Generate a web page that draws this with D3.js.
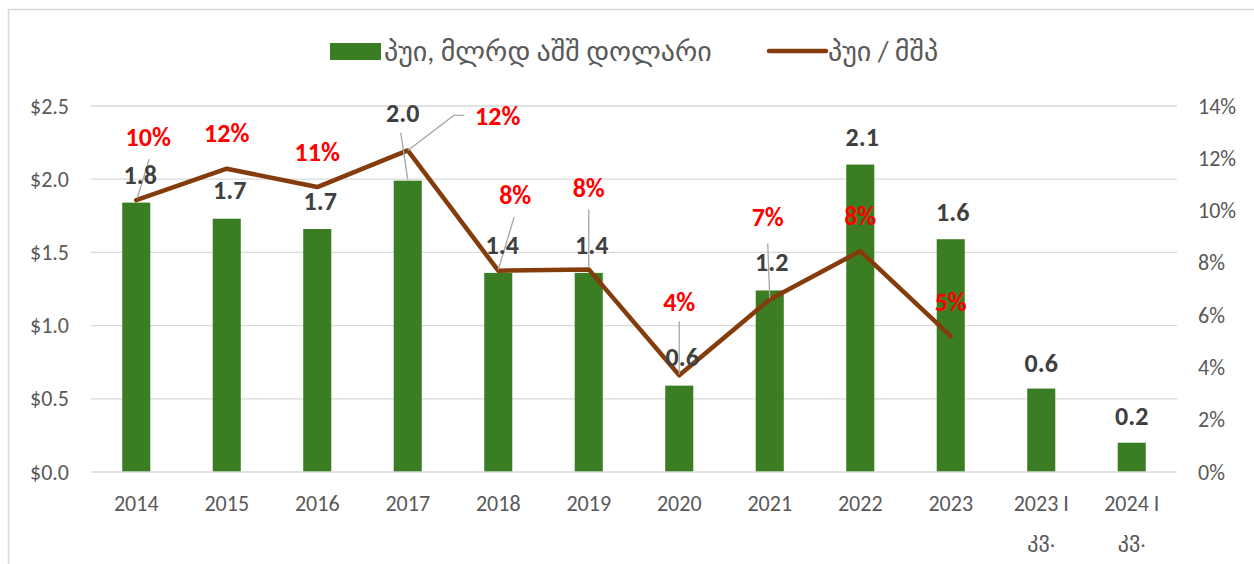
<!DOCTYPE html>
<html>
<head>
<meta charset="utf-8">
<script src="https://cdn.jsdelivr.net/npm/d3@7"></script>
<style>
  body { margin: 0; background: #fff; }
  svg text { font-family: Calibri, Carlito, Lato, "DejaVu Sans", sans-serif; }
</style>
</head>
<body>
<svg id="fdi" width="1254" height="564"></svg>
<script>
// data
let categories = ["2014", "2015", "2016", "2017", "2018", "2019", "2020", "2021", "2022", "2023", "2023 I\nკვ.", "2024 I\nკვ."]
let fdiBn = [1.84, 1.73, 1.66, 1.99, 1.36, 1.36, 0.59, 1.24, 2.10, 1.59, 0.57, 0.20]
let fdiShare = [0.104, 0.116, 0.109, 0.123, 0.077, 0.0775, 0.037, 0.066, 0.0845, 0.052]
let leftTicks = [0, 0.5, 1.0, 1.5, 2.0, 2.5]
let rightTicks = [0, 0.02, 0.04, 0.06, 0.08, 0.10, 0.12, 0.14]
let barName = "პუი, მლრდ აშშ დოლარი"
let lineName = "პუი / მშპ"

let svg = d3.select("#fdi")

let plot = {left: 91, right: 1177, top: 106, bottom: 472}

// chart border (only top/left visible in the frame)
svg.append("path")
    .attr("d", "M8.5,564 L8.5,9.5 L1254,9.5")
    .attr("fill", "none")
    .attr("stroke", "#d9d9d9")
    .attr("stroke-width", 1.5)

let x = d3.scaleBand()
    .domain(categories)
    .range([plot.left, plot.right])

let yLeft = d3.scaleLinear()
    .domain([0, 2.5])
    .range([plot.bottom, plot.top])

let yRight = d3.scaleLinear()
    .domain([0, 0.14])
    .range([plot.bottom, plot.top])

let cx = function(d) { return x(d) + x.bandwidth() / 2 }
let barW = x.bandwidth() * 0.31

// gridlines
svg.append("g")
    .selectAll("line")
    .data(leftTicks.slice(1))
    .join("line")
    .attr("x1", plot.left)
    .attr("x2", plot.right)
    .attr("y1", function(d) { return yLeft(d) })
    .attr("y2", function(d) { return yLeft(d) })
    .attr("stroke", "#d9d9d9")
    .attr("stroke-width", 1.3)

// left axis
let leftAxis = svg.append("g")
    .attr("transform", "translate(79,0)")
    .call(d3.axisLeft(yLeft).tickValues(leftTicks).tickSize(0).tickPadding(10).tickFormat(d3.format("$.1f")))
leftAxis.select(".domain").remove()
leftAxis.selectAll("text")
    .style("font-size", "22px")
    .attr("fill", "#595959")

// right axis
let rightAxis = svg.append("g")
    .attr("transform", "translate(1188,0)")
    .call(d3.axisRight(yRight).tickValues(rightTicks).tickSize(0).tickPadding(10).tickFormat(d3.format(".0%")))
rightAxis.select(".domain").remove()
rightAxis.selectAll("text")
    .style("font-size", "22px")
    .attr("fill", "#595959")

// bars
svg.append("g")
    .selectAll("rect")
    .data(fdiBn)
    .join("rect")
    .attr("x", function(d, i) { return cx(categories[i]) - barW / 2 })
    .attr("y", function(d) { return yLeft(d) })
    .attr("width", barW)
    .attr("height", function(d) { return yLeft(0) - yLeft(d) })
    .attr("fill", "#3b7d23")

// baseline
svg.append("line")
    .attr("x1", plot.left)
    .attr("x2", plot.right)
    .attr("y1", yLeft(0))
    .attr("y2", yLeft(0))
    .attr("stroke", "#d9d9d9")
    .attr("stroke-width", 1.3)

// x axis labels
let xLabels = svg.append("g")
    .selectAll("text")
    .data(categories)
    .join("text")
    .attr("text-anchor", "middle")
    .attr("fill", "#595959")
    .style("font-size", "22px")
xLabels.each(function(d) {
    let t = d3.select(this)
    d.split("\n").forEach(function(part, j) {
        t.append("tspan")
            .attr("x", cx(d))
            .attr("y", 511 + j * 36)
            .text(part)
    })
})

// line
let line = d3.line()
    .x(function(d, i) { return cx(categories[i]) })
    .y(function(d) { return yRight(d) })

svg.append("path")
    .datum(fdiShare)
    .attr("d", line)
    .attr("fill", "none")
    .attr("stroke", "#843c0c")
    .attr("stroke-width", 4.5)
    .attr("stroke-linejoin", "round")
    .attr("stroke-linecap", "round")

// label placement (manual nudges like in the workbook)
let barLabelPos = [[4, -28], [3, -29], [3, -28], [-5, -68], [4, -28], [3, -28], [3, -29], [2, -28], [2, -28], [2, -27], [0, -26], [0, -27]]
let pctLabelPos = [[12, -63], [0, -36], [0, -35], [90, -34], [17, -76], [0, -81], [0, -73], [-2, -82], [0, -35], [0, -34]]

let leaders = [
    {i: 0, s: "pct", from: [13, -41], to: [1, -2]},
    {i: 3, s: "bar", from: [-7, -48], to: [0, -1]},
    {i: 3, s: "pct", elbow: true},
    {i: 4, s: "pct", from: [16, -54], to: [0, -1]},
    {i: 5, s: "pct", from: [0, -60], to: [0, -2]},
    {i: 6, s: "pct", from: [0, -54], to: [0, -1]},
    {i: 7, s: "pct", from: [-2, -56], to: [0, -1]}
]

let leaderG = svg.append("g")
leaders.forEach(function(l) {
    let px = cx(categories[l.i])
    let py = l.s === "pct" ? yRight(fdiShare[l.i]) : yLeft(fdiBn[l.i])
    if (l.elbow) {
        let lx = px + pctLabelPos[l.i][0]
        let ly = py + pctLabelPos[l.i][1]
        leaderG.append("path")
            .attr("d", `M${px},${py} L${lx - 44},${ly - 1} L${lx - 34},${ly - 1}`)
            .attr("fill", "none")
            .attr("stroke", "#a6a6a6")
            .attr("stroke-width", 1.3)
    } else {
        leaderG.append("line")
            .attr("x1", px + l.from[0])
            .attr("y1", py + l.from[1])
            .attr("x2", px + l.to[0])
            .attr("y2", py + l.to[1])
            .attr("stroke", "#a6a6a6")
            .attr("stroke-width", 1.3)
    }
})

// bar value labels
svg.append("g")
    .selectAll("text")
    .data(fdiBn)
    .join("text")
    .attr("x", function(d, i) { return cx(categories[i]) + barLabelPos[i][0] })
    .attr("y", function(d, i) { return yLeft(d) + barLabelPos[i][1] })
    .attr("text-anchor", "middle")
    .attr("dominant-baseline", "central")
    .attr("fill", "#404040")
    .style("font-size", "26px")
    .style("font-weight", "bold")
    .text(function(d) { return d3.format(".1f")(d) })

// share labels
svg.append("g")
    .selectAll("text")
    .data(fdiShare)
    .join("text")
    .attr("x", function(d, i) { return cx(categories[i]) + pctLabelPos[i][0] })
    .attr("y", function(d, i) { return yRight(d) + pctLabelPos[i][1] })
    .attr("text-anchor", "middle")
    .attr("dominant-baseline", "central")
    .attr("fill", "#ff0000")
    .style("font-size", "26px")
    .style("font-weight", "bold")
    .text(function(d) { return d3.format(".0%")(d) })

// legend
let legend = svg.append("g")
legend.append("rect")
    .attr("x", 330)
    .attr("y", 43)
    .attr("width", 51)
    .attr("height", 17)
    .attr("fill", "#3b7d23")
legend.append("text")
    .attr("x", 384)
    .attr("y", 51)
    .attr("dominant-baseline", "central")
    .attr("fill", "#595959")
    .style("font-size", "28px")
    .text(barName)
legend.append("line")
    .attr("x1", 769)
    .attr("x2", 826)
    .attr("y1", 51)
    .attr("y2", 51)
    .attr("stroke", "#843c0c")
    .attr("stroke-width", 4.5)
    .attr("stroke-linecap", "round")
legend.append("text")
    .attr("x", 828)
    .attr("y", 51)
    .attr("dominant-baseline", "central")
    .attr("fill", "#595959")
    .style("font-size", "28px")
    .text(lineName)
</script>
</body>
</html>
